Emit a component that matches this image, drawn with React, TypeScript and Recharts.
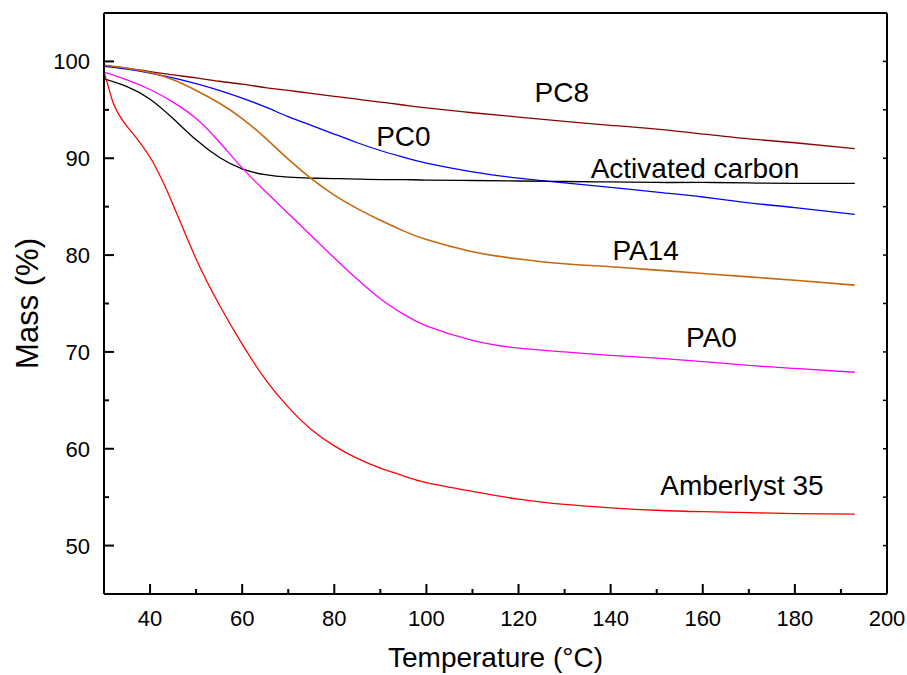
import React from 'react';
import { LineChart, Line, XAxis, YAxis, ReferenceDot } from 'recharts';

// temperature grid (°C)
const temps = [30, 31, 32, 33, 35, 40, 45, 50, 55, 60, 65, 70, 75, 80, 85, 90, 95, 100, 110, 120, 130, 140, 150, 160, 170, 180, 193];

// mass (%) per sample, null where a point was not read
const pc8 = [99.6, null, null, null, 99.3, 98.95, 98.6, 98.3, 97.95, 97.65, 97.3, 97.0, 96.7, 96.4, 96.1, 95.8, 95.5, 95.2, 94.7, 94.25, 93.8, 93.4, 93.0, 92.5, 92.0, 91.6, 91.0];
const pc0 = [99.5, null, null, null, 99.2, 98.8, 98.3, 97.7, 97.0, 96.2, 95.3, 94.3, 93.4, 92.5, 91.6, 90.8, 90.1, 89.5, 88.6, 87.95, 87.45, 87.0, 86.5, 86.0, 85.4, 84.9, 84.2];
const carbon = [98.2, null, null, null, 97.4, 96.1, 94.1, 91.9, 90.1, 88.9, 88.3, 88.05, 87.95, 87.9, 87.85, 87.8, 87.8, 87.75, 87.7, 87.65, 87.6, 87.55, 87.5, 87.5, 87.45, 87.4, 87.4];
const pa14 = [99.6, null, null, null, 99.3, 98.85, 98.1, 97.0, 95.7, 94.1, 92.1, 89.9, 87.9, 86.2, 84.8, 83.6, 82.5, 81.6, 80.35, 79.6, 79.1, 78.8, 78.45, 78.1, 77.75, 77.4, 76.9];
const pa0 = [98.9, null, null, null, 98.1, 97.1, 95.8, 94.1, 91.7, 89.0, 86.6, 84.3, 82.0, 79.7, 77.5, 75.5, 73.9, 72.7, 71.2, 70.4, 70.0, 69.65, 69.35, 69.0, 68.6, 68.3, 67.9];
const amberlyst = [98.9, 97.3, 95.7, 94.7, 93.3, 90.1, 85.2, 79.6, 74.9, 70.8, 67.2, 64.3, 62.0, 60.3, 59.0, 58.0, 57.2, 56.5, 55.6, 54.8, 54.25, 53.9, 53.65, 53.5, 53.4, 53.3, 53.25];

// axis ticks
const xTicks = [30, 40, 50, 60, 70, 80, 90, 100, 110, 120, 130, 140, 150, 160, 170, 180, 190, 200];
const yTicks = [45, 50, 55, 60, 65, 70, 75, 80, 85, 90, 95, 100, 105];

// curve labels (placed in data units)
const labelNames = ['PC8', 'PC0', 'Activated carbon', 'PA14', 'PA0', 'Amberlyst 35'];
const labelTemps = [129.4, 95.0, 158.3, 147.6, 161.9, 168.5];
const labelMasses = [96.8, 92.3, 89.0, 80.5, 71.5, 56.3];

const data = temps.map((t, i) => ({
    t,
    pc8: pc8[i],
    pc0: pc0[i],
    carbon: carbon[i],
    pa14: pa14[i],
    pa0: pa0[i],
    amberlyst: amberlyst[i],
}));

const BottomTick = ({ x, y, payload }: any) => {
    const v = payload.value;
    if (v === 30) return null;
    const major = v % 20 === 0;
    return (
        <g>
            <line x1={x} x2={x} y1={y} y2={y - (major ? 10 : 5)} stroke="#000" strokeWidth={2} />
            {major && (
                <text x={x} y={y + 32} textAnchor="middle" fontSize={22} fill="#000">{v}</text>
            )}
        </g>
    );
};

const LeftTick = ({ x, y, payload }: any) => {
    const v = payload.value;
    if (v === 45 || v === 105) return null;
    const major = v % 10 === 0;
    return (
        <g>
            <line x1={x} x2={x + (major ? 10 : 5)} y1={y} y2={y} stroke="#000" strokeWidth={2} />
            {major && (
                <text x={x - 14} y={y + 8} textAnchor="end" fontSize={22} fill="#000">{v}</text>
            )}
        </g>
    );
};

const TopTick = ({ x, y, payload }: any) => {
    if (payload.value === 30 || payload.value === 200) return null;
    return <line x1={x} x2={x} y1={y} y2={y + 4} stroke="#000" strokeWidth={1.5} />;
};

const RightTick = ({ x, y, payload }: any) => {
    if (payload.value === 45 || payload.value === 105) return null;
    return <line x1={x} x2={x - 4} y1={y} y2={y} stroke="#000" strokeWidth={1.5} />;
};

const YTitle = ({ viewBox }: any) => {
    const cx = viewBox.x + 27;
    const cy = viewBox.y + viewBox.height / 2;
    return (
        <text x={cx} y={cy} transform={`rotate(-90 ${cx} ${cy})`} textAnchor="middle" dominantBaseline="central" fontSize={31} fill="#000">
            Mass (%)
        </text>
    );
};

const App = () => {
    return (
        <div style={{ position: 'absolute', left: 0, top: 0, width: 907, height: 675, background: '#fff', fontFamily: '"Liberation Sans", Arial, sans-serif' }}>
            <LineChart width={907} height={675} data={data} margin={{ top: 0, right: 0, bottom: 0, left: 0 }}>
                <XAxis
                    dataKey="t"
                    type="number"
                    domain={[30, 200]}
                    ticks={xTicks}
                    interval={0}
                    height={81}
                    tickSize={0}
                    tickMargin={0}
                    tickLine={false}
                    axisLine={{ stroke: '#000', strokeWidth: 2 }}
                    tick={<BottomTick />}
                    allowDataOverflow
                    label={{ value: 'Temperature (°C)', position: 'insideBottom', offset: 8, fontSize: 28, fill: '#000' }}
                />
                <XAxis
                    xAxisId="top"
                    orientation="top"
                    type="number"
                    domain={[30, 200]}
                    ticks={xTicks}
                    interval={0}
                    height={13}
                    tickSize={0}
                    tickMargin={0}
                    tickLine={false}
                    axisLine={{ stroke: '#000', strokeWidth: 2 }}
                    tick={<TopTick />}
                    allowDataOverflow
                />
                <YAxis
                    type="number"
                    domain={[45, 105]}
                    ticks={yTicks}
                    interval={0}
                    width={104}
                    tickSize={0}
                    tickMargin={0}
                    tickLine={false}
                    axisLine={{ stroke: '#000', strokeWidth: 2 }}
                    tick={<LeftTick />}
                    allowDataOverflow
                    label={{ content: <YTitle /> }}
                />
                <YAxis
                    yAxisId="right"
                    orientation="right"
                    type="number"
                    domain={[45, 105]}
                    ticks={yTicks}
                    interval={0}
                    width={20}
                    tickSize={0}
                    tickMargin={0}
                    tickLine={false}
                    axisLine={{ stroke: '#000', strokeWidth: 2 }}
                    tick={<RightTick />}
                    allowDataOverflow
                />

                <Line type="natural" dataKey="pc8" stroke="#8B0000" strokeWidth={1.3} dot={false} connectNulls isAnimationActive={false} />
                <Line type="natural" dataKey="pc0" stroke="#0000FF" strokeWidth={1.3} dot={false} connectNulls isAnimationActive={false} />
                <Line type="natural" dataKey="carbon" stroke="#000000" strokeWidth={1.3} dot={false} connectNulls isAnimationActive={false} />
                <Line type="natural" dataKey="pa14" stroke="#C8680E" strokeWidth={1.6} dot={false} connectNulls isAnimationActive={false} />
                <Line type="natural" dataKey="pa0" stroke="#FF00FF" strokeWidth={1.3} dot={false} connectNulls isAnimationActive={false} />
                <Line type="natural" dataKey="amberlyst" stroke="#FF0000" strokeWidth={1.3} dot={false} connectNulls isAnimationActive={false} />

                {labelNames.map((name, i) => (
                    <ReferenceDot
                        key={name}
                        x={labelTemps[i]}
                        y={labelMasses[i]}
                        r={0}
                        fill="none"
                        stroke="none"
                        ifOverflow="visible"
                        label={{ value: name, position: 'center', fontSize: 28, fill: '#000' }}
                    />
                ))}
            </LineChart>
        </div>
    );
};

export default App;
